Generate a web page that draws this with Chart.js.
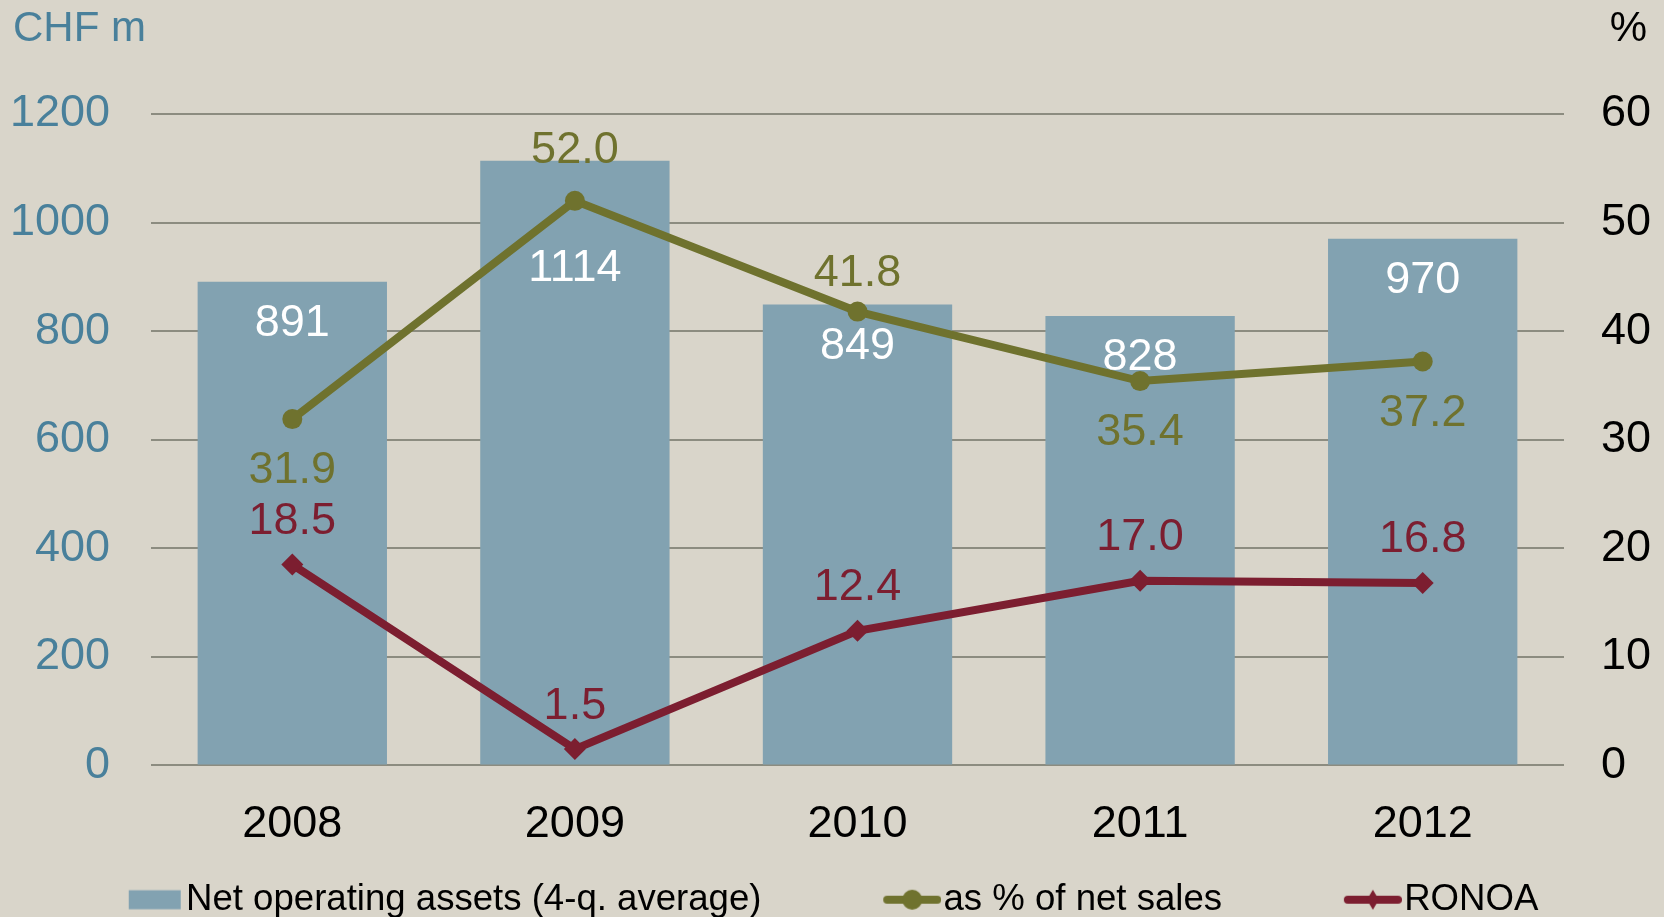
<!DOCTYPE html>
<html>
<head>
<meta charset="utf-8">
<script src="https://cdn.jsdelivr.net/npm/chart.js@4.4.1/dist/chart.umd.min.js"></script>
<style>
html, body { margin: 0; padding: 0; background: rgb(217, 213, 202); }
#wrap { width: 1664px; height: 917px; position: relative; }
</style>
</head>
<body>
<div id="wrap"><canvas id="myChart"></canvas></div>
<script>
// data for the chart
var years = ['2008', '2009', '2010', '2011', '2012'];
var netAssets = [891, 1114, 849, 828, 970];
var pctSales = [31.9, 52.0, 41.8, 35.4, 37.2];
var ronoa = [18.5, 1.5, 12.4, 17.0, 16.8];
var leftTicks = [0, 200, 400, 600, 800, 1000, 1200];
var rightTicks = [0, 10, 20, 30, 40, 50, 60];

// where the value labels sit, px from the mark (+ is down)
var barLabelShift = [42, 108, 42, 42, 42];
var pctLabelShift = [52, -50, -38, 52, 52];
var ronoaLabelShift = [-43, -43, -43, -43, -43];

var colBar = 'rgb(130, 162, 177)';
var colOlive = 'rgb(111, 114, 46)';
var colRed = 'rgb(124, 30, 48)';
var colBlue = 'rgb(73, 128, 155)';
var colGrid = 'rgb(140, 140, 128)';

Chart.defaults.font.family = '"Liberation Sans", Arial, sans-serif';

// little pictures for the legend (line + marker / box)
var iconBox = 42; // legend pointStyleWidth
function legendIcon(kind, color) {
    var c = document.createElement('canvas');
    // the picture is centred on the box, so it is padded on its left side
    c.width = 2 * (58 - iconBox / 2); c.height = 22;
    var g = c.getContext('2d');
    var x0 = c.width - 58;
    g.fillStyle = color; g.strokeStyle = color;
    if (kind === 'box') {
        g.fillRect(x0 + 3, 1.5, 52, 19);
    } else {
        g.lineWidth = 8; g.lineCap = 'round';
        g.beginPath(); g.moveTo(x0 + 4, 11); g.lineTo(x0 + 54, 11); g.stroke();
        g.beginPath();
        if (kind === 'circle') {
            g.arc(x0 + 29, 11, 10, 0, Math.PI * 2);
        } else {
            g.moveTo(x0 + 29, 1); g.lineTo(x0 + 35, 11); g.lineTo(x0 + 29, 21); g.lineTo(x0 + 23, 11); g.closePath();
        }
        g.fill();
    }
    return c;
}
var legendIcons = [legendIcon('box', colBar), legendIcon('circle', colOlive), legendIcon('diamond', colRed)];
var legendSpacer = '           ';

// value labels next to bars and points
const valueLabels = {
    id: 'valueLabels',
    afterDatasetsDraw(chart) {
        var ctx = chart.ctx;
        ctx.save();
        ctx.font = '45px "Liberation Sans", Arial, sans-serif';
        ctx.textAlign = 'center';
        ctx.textBaseline = 'middle';
        chart.data.datasets.forEach(function (ds, i) {
            var meta = chart.getDatasetMeta(i);
            meta.data.forEach(function (el, j) {
                var txt = ds.type === 'bar' ? String(ds.data[j]) : ds.data[j].toFixed(1);
                ctx.fillStyle = ds.labelColor;
                ctx.fillText(txt, el.x, el.y + ds.labelShift[j]);
            });
        });
        ctx.restore();
    }
};

// unit captions above the two axes
const axisUnits = {
    id: 'axisUnits',
    afterDraw(chart) {
        var ctx = chart.ctx;
        ctx.save();
        ctx.font = '42px "Liberation Sans", Arial, sans-serif';
        ctx.textBaseline = 'middle';
        ctx.fillStyle = colBlue;
        ctx.textAlign = 'left';
        ctx.fillText('CHF m', 13, 29);
        ctx.fillStyle = '#000';
        ctx.textAlign = 'right';
        ctx.fillText('%', 1647, 29);
        ctx.restore();
    }
};

const data = {
    labels: years,
    datasets: [
        {
            type: 'bar',
            label: 'Net operating assets (4-q. average)',
            data: netAssets,
            backgroundColor: colBar,
            yAxisID: 'yAssets',
            order: 3,
            barPercentage: 0.67,
            categoryPercentage: 1,
            labelColor: '#fff',
            labelShift: barLabelShift
        },
        {
            type: 'line',
            label: 'as % of net sales',
            data: pctSales,
            borderColor: colOlive,
            backgroundColor: colOlive,
            borderWidth: 8,
            tension: 0,
            pointStyle: 'circle',
            pointRadius: 10,
            pointHoverRadius: 10,
            pointBorderWidth: 0,
            yAxisID: 'yPct',
            order: 2,
            labelColor: colOlive,
            labelShift: pctLabelShift
        },
        {
            type: 'line',
            label: 'RONOA',
            data: ronoa,
            borderColor: colRed,
            backgroundColor: colRed,
            borderWidth: 8,
            tension: 0,
            pointStyle: 'rectRot',
            pointRadius: 11,
            pointHoverRadius: 11,
            pointBorderWidth: 0,
            yAxisID: 'yPct',
            order: 1,
            labelColor: colRed,
            labelShift: ronoaLabelShift
        }
    ]
};

const config = {
    type: 'bar',
    data: data,
    plugins: [valueLabels, axisUnits],
    options: {
        responsive: true,
        maintainAspectRatio: false,
        animation: false,
        layout: { padding: { top: 114, left: 0, right: 0, bottom: -11 } },
        plugins: {
            tooltip: { enabled: false },
            legend: {
                position: 'bottom',
                labels: {
                    color: '#000',
                    font: { size: 36.6 },
                    usePointStyle: true,
                    pointStyleWidth: iconBox,
                    padding: 10,
                    generateLabels: function (chart) {
                        var n = chart.data.datasets.length;
                        return chart.data.datasets.map(function (ds, i) {
                            return {
                                text: ds.label + (i < n - 1 ? legendSpacer : ''),
                                pointStyle: legendIcons[i],
                                fillStyle: ds.backgroundColor,
                                strokeStyle: ds.backgroundColor,
                                lineWidth: 0,
                                hidden: false,
                                datasetIndex: i
                            };
                        });
                    }
                }
            }
        },
        scales: {
            x: {
                grid: { display: false },
                border: { display: false },
                ticks: { color: '#000', font: { size: 45 }, padding: 24 },
                afterFit: function (s) { s.height = 106; }
            },
            yAssets: {
                position: 'left',
                min: 0,
                max: 1200,
                grid: { color: colGrid, lineWidth: 2, drawTicks: false },
                border: { display: false },
                ticks: {
                    color: colBlue, font: { size: 45 }, padding: 41,
                    callback: function (v) { return String(v); }
                },
                afterBuildTicks: function (s) { s.ticks = leftTicks.map(function (v) { return { value: v }; }); },
                afterFit: function (s) { s.width = 151; }
            },
            yPct: {
                position: 'right',
                min: 0,
                max: 60,
                grid: { display: false, drawTicks: false },
                border: { display: false },
                ticks: {
                    color: '#000', font: { size: 45 }, padding: 37,
                    callback: function (v) { return String(v); }
                },
                afterBuildTicks: function (s) { s.ticks = rightTicks.map(function (v) { return { value: v }; }); },
                afterFit: function (s) { s.width = 100; }
            }
        }
    }
};

const myChart = new Chart(document.getElementById('myChart'), config);
</script>
</body>
</html>
